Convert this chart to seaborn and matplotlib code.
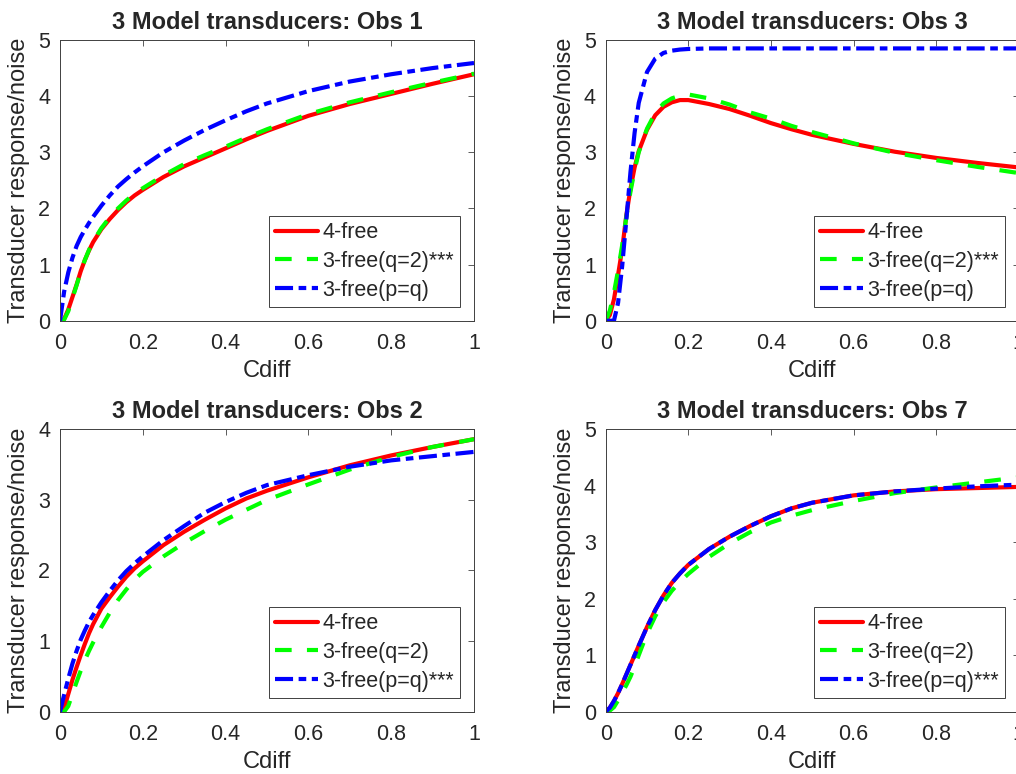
import matplotlib
matplotlib.use("Agg")
import matplotlib.pyplot as plt
import seaborn as sns
import pandas as pd

# ---------------- data ----------------
cdiff = [0, 0.01, 0.02, 0.03, 0.04, 0.05, 0.06, 0.07, 0.08, 0.1, 0.12, 0.14,
         0.16, 0.18, 0.2, 0.25, 0.3, 0.35, 0.4, 0.45, 0.5, 0.6, 0.7, 0.8, 0.9, 1.0]

obs1_free4 = [0, 0.03, 0.20, 0.42, 0.64, 0.88, 1.08, 1.25, 1.40, 1.63, 1.81, 1.97,
              2.11, 2.23, 2.33, 2.56, 2.75, 2.91, 3.07, 3.23, 3.38, 3.65, 3.86, 4.04, 4.22, 4.39]
obs1_q2 = [0, 0.02, 0.17, 0.40, 0.63, 0.87, 1.08, 1.26, 1.41, 1.65, 1.84, 2.00,
           2.14, 2.26, 2.36, 2.59, 2.79, 2.95, 3.10, 3.26, 3.41, 3.68, 3.89, 4.07, 4.24, 4.40]
obs1_pq = [0, 0.52, 0.86, 1.12, 1.33, 1.49, 1.62, 1.74, 1.85, 2.05, 2.23, 2.39,
           2.52, 2.64, 2.75, 3.00, 3.21, 3.40, 3.57, 3.73, 3.87, 4.09, 4.26, 4.39, 4.50, 4.59]

obs3_free4 = [0, 0.10, 0.38, 0.82, 1.28, 1.88, 2.35, 2.73, 3.02, 3.40, 3.66, 3.81,
              3.89, 3.93, 3.93, 3.86, 3.77, 3.65, 3.52, 3.41, 3.31, 3.15, 3.01, 2.90, 2.81, 2.73]
obs3_q2 = [0, 0.18, 0.50, 0.90, 1.35, 1.85, 2.30, 2.68, 3.00, 3.42, 3.70, 3.87,
           3.96, 4.01, 4.03, 3.96, 3.85, 3.71, 3.60, 3.47, 3.36, 3.16, 2.99, 2.86, 2.74, 2.63]
obs3_pq = [0, 0.0, 0.0, 0.32, 0.98, 1.80, 2.65, 3.35, 3.88, 4.43, 4.67, 4.77,
           4.81, 4.83, 4.84, 4.85, 4.85, 4.85, 4.85, 4.85, 4.85, 4.85, 4.85, 4.85, 4.85, 4.85]

obs2_free4 = [0, 0.05, 0.25, 0.45, 0.63, 0.80, 0.96, 1.11, 1.24, 1.46, 1.62, 1.77,
              1.91, 2.03, 2.13, 2.36, 2.55, 2.72, 2.88, 3.02, 3.13, 3.32, 3.49, 3.63, 3.75, 3.86]
obs2_q2 = [0, 0.0, 0.08, 0.25, 0.42, 0.58, 0.73, 0.86, 0.98, 1.20, 1.40, 1.58,
           1.73, 1.87, 1.98, 2.20, 2.39, 2.56, 2.72, 2.86, 3.00, 3.22, 3.43, 3.61, 3.75, 3.86]
obs2_pq = [0, 0.24, 0.47, 0.68, 0.86, 1.02, 1.15, 1.27, 1.37, 1.55, 1.71, 1.86,
           1.99, 2.10, 2.20, 2.43, 2.63, 2.82, 2.97, 3.10, 3.21, 3.35, 3.47, 3.56, 3.62, 3.68]

obs7_free4 = [0, 0.07, 0.19, 0.33, 0.49, 0.66, 0.83, 1.00, 1.17, 1.50, 1.80, 2.06,
              2.28, 2.45, 2.60, 2.88, 3.10, 3.29, 3.46, 3.60, 3.70, 3.83, 3.90, 3.94, 3.96, 3.98]
obs7_q2 = [0, 0.02, 0.08, 0.20, 0.34, 0.47, 0.62, 0.80, 1.00, 1.38, 1.69, 1.94,
           2.14, 2.30, 2.44, 2.74, 2.98, 3.18, 3.35, 3.47, 3.57, 3.73, 3.87, 3.97, 4.06, 4.15]
obs7_pq = [0, 0.07, 0.19, 0.33, 0.49, 0.66, 0.83, 1.00, 1.17, 1.50, 1.80, 2.06,
           2.28, 2.45, 2.60, 2.88, 3.10, 3.29, 3.46, 3.60, 3.70, 3.83, 3.90, 3.95, 3.99, 4.02]

titles = ["3 Model transducers: Obs 1", "3 Model transducers: Obs 3",
          "3 Model transducers: Obs 2", "3 Model transducers: Obs 7"]
labels_top = ["4-free", "3-free(q=2)***", "3-free(p=q)"]
labels_bottom = ["4-free", "3-free(q=2)", "3-free(p=q)***"]
xticks = [0, 0.2, 0.4, 0.6, 0.8, 1.0]
xticklabels = ["0", "0.2", "0.4", "0.6", "0.8", "1"]
ymax = [5, 5, 4, 5]

panels = [
    (obs1_free4, obs1_q2, obs1_pq, labels_top),
    (obs3_free4, obs3_q2, obs3_pq, labels_top),
    (obs2_free4, obs2_q2, obs2_pq, labels_bottom),
    (obs7_free4, obs7_q2, obs7_pq, labels_bottom),
]

# ---------------- style ----------------
sns.set_theme(style="white")
plt.rcParams["font.family"] = ["Liberation Sans", "DejaVu Sans"]
plt.rcParams["lines.scale_dashes"] = False
plt.rcParams["axes.edgecolor"] = "#404040"
plt.rcParams["axes.linewidth"] = 0.7

TXT = "#262626"
colors = ["#ff0000", "#00ff00", "#0000ff"]
dashes = [None, (12, 11), (13, 4, 5.5, 4)]

fig = plt.figure(figsize=(10.16, 7.74), dpi=100)
positions = [
    [0.05906, 0.58566, 0.40748, 0.36266],
    [0.59616, 0.58566, 0.40650, 0.36266],
    [0.05906, 0.08049, 0.40748, 0.36486],
    [0.59616, 0.08049, 0.40650, 0.36486],
]

for i, (f4, q2, pq, labs) in enumerate(panels):
    ax = fig.add_axes(positions[i])
    n = len(cdiff)
    df = pd.DataFrame({"Cdiff": cdiff * 3,
                       "resp": f4 + q2 + pq,
                       "model": [labs[0]] * n + [labs[1]] * n + [labs[2]] * n})
    for j, lab in enumerate(labs):
        sub = df[df["model"] == lab]
        sns.lineplot(data=sub, x="Cdiff", y="resp", ax=ax, color=colors[j],
                     linewidth=3, label=lab, sort=False, estimator=None)
        line = ax.lines[-1]
        if dashes[j] is not None:
            line.set_dashes(dashes[j])
            line.set_dash_capstyle("butt")
    ax.set_xlim(0, 1)
    ax.set_ylim(0, ymax[i])
    ax.set_xticks(xticks)
    ax.set_xticklabels(xticklabels)
    ax.set_yticks(list(range(ymax[i] + 1)))
    ax.tick_params(direction="in", top=True, right=True, length=4, width=0.6,
                   color="#404040", labelsize=15.5, labelcolor=TXT)
    ax.tick_params(axis="x", pad=9)
    ax.tick_params(axis="y", pad=7)
    ax.set_xlabel("Cdiff", fontsize=17, color=TXT, labelpad=4)
    ax.set_ylabel("Transducer response/noise", fontsize=17, color=TXT, labelpad=6)
    ax.set_title(titles[i], fontsize=17, fontweight="bold", color=TXT, pad=8)
    leg = ax.legend(loc="lower right", fontsize=15.5, frameon=True, fancybox=False,
                    framealpha=1, edgecolor="#404040", borderaxespad=0.65,
                    handlelength=2.0, handletextpad=0.2, labelspacing=0.36,
                    borderpad=0.28)
    leg.get_frame().set_linewidth(0.7)
    for t in leg.get_texts():
        t.set_color(TXT)

fig.savefig("out.png", dpi=100)
